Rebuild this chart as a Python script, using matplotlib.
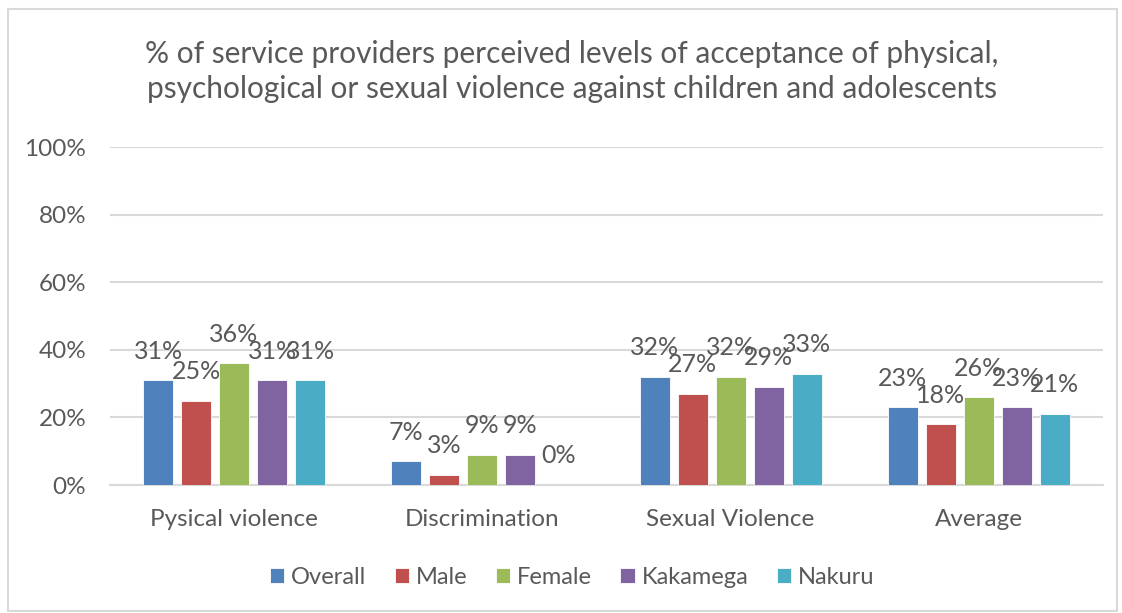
import matplotlib.pyplot as plt
import numpy as np
from matplotlib.patches import Rectangle

plt.rcParams['font.family'] = ['Lato', 'DejaVu Sans']

categories = ['Pysical violence', 'Discrimination', 'Sexual Violence', 'Average']
series_names = ['Overall', 'Male', 'Female', 'Kakamega', 'Nakuru']
overall = [31, 7, 32, 23]
male = [25, 3, 27, 18]
female = [36, 9, 32, 26]
kakamega = [31, 9, 29, 23]
nakuru = [31, 0, 33, 21]
colors = ['#4F81BD', '#C0504D', '#9BBB59', '#8064A2', '#4BACC6']

title = ('% of service providers perceived levels of acceptance of physical,\n'
         'psychological or sexual violence against children and adolescents')

TEXT = '#595959'
GRID = '#D9D9D9'

fig = plt.figure(figsize=(11.22, 6.13), dpi=100)
ax = fig.add_axes([0.098, 0.2088, 0.885, 0.551])

x = np.arange(len(categories))
stride = 0.153
width = 0.121
all_series = [overall, male, female, kakamega, nakuru]
for i, (name, vals, col) in enumerate(zip(series_names, all_series, colors)):
    pos = x + (i - 2) * stride
    bars = ax.bar(pos, vals, width, color=col, label=name,
                  edgecolor='white', linewidth=0.6, zorder=3)
    for b, v in zip(bars, vals):
        ax.annotate(f'{v}%', (b.get_x() + b.get_width() / 2, v),
                    xytext=(0, 21), textcoords='offset points',
                    ha='center', va='center', fontsize=18, color=TEXT, zorder=4)

ax.set_xlim(-0.5, len(categories) - 0.5)
ax.set_ylim(0, 100)
ax.set_yticks(range(0, 101, 20))
ax.set_yticklabels([f'{t}%' for t in range(0, 101, 20)])
ax.set_xticks(x)
ax.set_xticklabels(categories)
ax.tick_params(axis='both', length=0, labelsize=17.5, colors=TEXT)
ax.tick_params(axis='y', pad=17)
ax.tick_params(axis='x', pad=17)
ax.grid(axis='y', color=GRID, linewidth=1.5, zorder=0)
for s in ['top', 'right', 'left']:
    ax.spines[s].set_visible(False)
ax.spines['bottom'].set_color(GRID)
ax.spines['bottom'].set_linewidth(1.5)

fig.text(0.51, 0.884, title, ha='center', va='center', fontsize=21.5,
         color=TEXT, linespacing=1.3)

leg = fig.legend(loc='center', bbox_to_anchor=(0.51, 0.058), ncol=5,
                 frameon=False, fontsize=17, handlelength=0.6,
                 handleheight=0.6, handletextpad=0.3, columnspacing=1.2)
for t in leg.get_texts():
    t.set_color(TEXT)

# outer chart border
fig.patches.append(Rectangle((0.0075, 0.004), 0.988, 0.982, transform=fig.transFigure,
                             fill=False, edgecolor=GRID, linewidth=1.5))

fig.savefig('out.png', dpi=100)
